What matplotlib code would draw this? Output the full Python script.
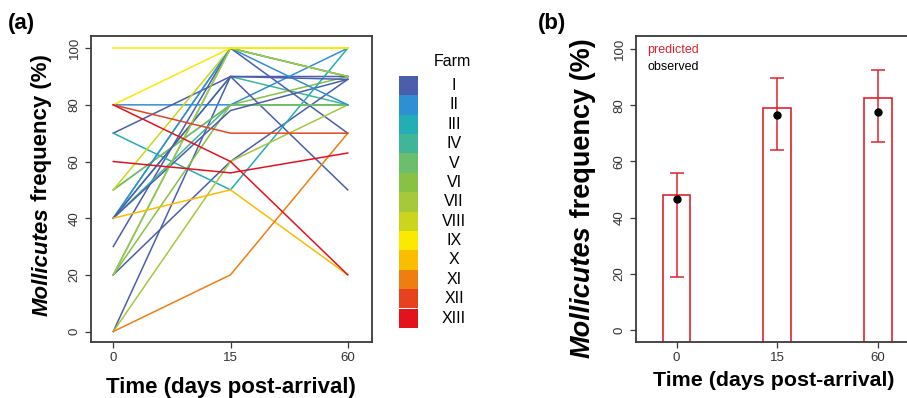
import matplotlib
matplotlib.use("Agg")
import matplotlib.pyplot as plt
import numpy as np

plt.rcParams['font.family'] = ['Liberation Sans', 'DejaVu Sans']

# farm palette, I .. XIII
farm_names = ['I', 'II', 'III', 'IV', 'V', 'VI', 'VII', 'VIII', 'IX', 'X', 'XI', 'XII', 'XIII']
farm_colors = ['#4a5eab', '#2f8fd3', '#21aeb4', '#41b598', '#6dbd6e', '#88c244', '#a6c93b',
               '#cbd51e', '#fbe900', '#fbbd00', '#ef7e10', '#e7421f', '#e3131e']

days = ['0', '15', '60']

# (a) one line per group: farm index and frequency at day 0, 15, 60
line_farm = [3, 2, 3, 5, 0, 0, 0, 1, 0, 2, 3, 5, 6, 4, 7, 0, 1, 0, 6, 8, 8, 9, 10, 11, 12, 12]
day0 = [40, 20, 40, 50, 0, 20, 30, 80, 70, 70, 40, 20, 0, 50, 50, 40, 40, 40, 20, 100, 80, 40, 0, 80, 60, 80]
day15 = [100, 100, 90, 80, 90, 60, 100, 80, 90, 50, 80, 80, 60, 80, 100, 78, 100, 90, 100, 100, 100, 50, 20, 70, 56, 60]
day60 = [90, 90, 80, 90, 90, 89, 70, 100, 50, 100, 80, 80, 80, 80, 100, 89, 80, 89, 90, 100, 100, 20, 70, 70, 63, 20]

# (b) predicted (bars + interval) and observed (dots)
predicted = [48, 79, 82.5]
pred_low = [19, 64, 67]
pred_high = [56, 89.5, 92.5]
observed = [46.5, 76.5, 77.5]

W, H = 907, 398
fig = plt.figure(figsize=(W / 100, H / 100), dpi=100)

def px_axes(x0, y0, x1, y1):
    return fig.add_axes([x0 / W, 1 - y1 / H, (x1 - x0) / W, (y1 - y0) / H])

def style_axes(ax):
    for s in ax.spines.values():
        s.set_color('#3a3a3a')
        s.set_linewidth(1.3)
    ax.tick_params(colors='#3a3a3a', labelcolor='#333333', labelsize=9.5,
                   length=4, width=0.9, direction='out')
    ax.set_yticks([0, 20, 40, 60, 80, 100])
    for lab in ax.get_yticklabels():
        lab.set_rotation(90)
        lab.set_va('center')
    ax.set_xticks([1, 2, 3])
    ax.set_xticklabels(days)

# ---- panel (a)
axa = px_axes(91, 36, 372, 342)
xpos = np.array([1, 2, 3])
for f, a, b, c in zip(line_farm, day0, day15, day60):
    axa.plot(xpos, [a, b, c], color=farm_colors[f], lw=1.1, solid_joinstyle='miter')
axa.set_xlim(0.81, 3.207)
axa.set_ylim(-3.7, 104.3)
style_axes(axa)

# ---- panel (b)
axb = px_axes(636, 36, 918, 342)
axb.bar(xpos, np.array(predicted) + 10, bottom=-10, width=0.275,
        facecolor='white', edgecolor='#e0222c', lw=1.2, zorder=2)
lo = np.array(pred_low)
hi = np.array(pred_high)
mid = (lo + hi) / 2
axb.errorbar(xpos, mid, yerr=[mid - lo, hi - mid], fmt='none', ecolor='#e0222c',
             elinewidth=1.1, capsize=5, capthick=1.1, zorder=3)
axb.plot(xpos, observed, 'o', color='black', ms=5, zorder=4)
axb.set_xlim(0.596, 3.4)
axb.set_ylim(-4.2, 104.6)
style_axes(axb)
axb.spines['right'].set_visible(False)
axb.text(0.04, 0.955, 'predicted', transform=axb.transAxes, color='#e0222c', fontsize=9, va='center')
axb.text(0.04, 0.9, 'observed', transform=axb.transAxes, color='black', fontsize=9, va='center')

# ---- overlay in pixel units for legend and labels
ov = fig.add_axes([0, 0, 1, 1])
ov.set_xlim(0, W)
ov.set_ylim(H, 0)
ov.axis('off')

ov.text(8, 24, '(a)', fontsize=16, fontweight='bold', va='center')
ov.text(538, 24, '(b)', fontsize=16, fontweight='bold', va='center')

ov.text(452, 62, 'Farm', fontsize=11.5, ha='center', va='center')
box_top, box_h = 75.7, 19.4
for i, (name, col) in enumerate(zip(farm_names, farm_colors)):
    y0 = box_top + i * box_h
    ov.add_patch(plt.Rectangle((399, y0), 19.3, box_h, facecolor=col, edgecolor='none'))
    ov.text(454, y0 + box_h / 2, name, fontsize=11.5, ha='center', va='center')

ov.text(231, 387, 'Time (days post-arrival)', fontsize=16, fontweight='bold', ha='center', va='center')
ov.text(774, 381, 'Time (days post-arrival)', fontsize=15.4, fontweight='bold', ha='center', va='center')

renderer = fig.canvas.get_renderer()

def ylabel(cx, cy, size):
    t1 = ov.text(cx, cy, 'Mollicutes', rotation=90, fontsize=size, fontweight='bold',
                 style='italic', ha='center', va='bottom')
    t2 = ov.text(cx, cy, ' frequency (%)', rotation=90, fontsize=size, fontweight='bold',
                 ha='center', va='bottom')
    h1 = t1.get_window_extent(renderer).height
    h2 = t2.get_window_extent(renderer).height
    start = cy + (h1 + h2) / 2
    t1.set_y(start)
    t2.set_y(start - h1)

ylabel(42, 185, 16)
ylabel(583, 198, 19.5)

fig.savefig('out.png', dpi=100)
